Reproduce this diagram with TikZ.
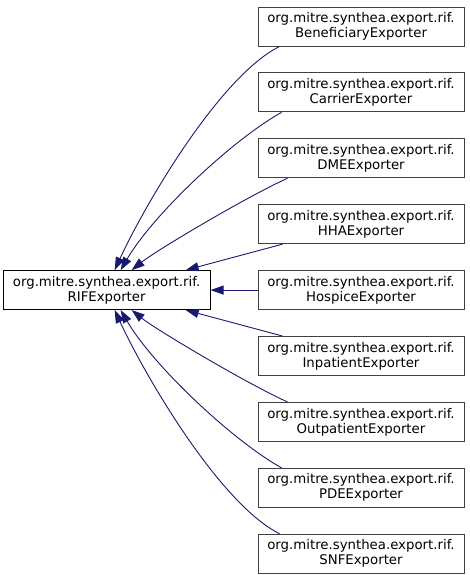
\documentclass[tikz,border=0pt]{standalone}
\usepackage{fontspec}
\setmainfont{DejaVu Sans}
\usetikzlibrary{arrows.meta, positioning}

\begin{document}
\begin{tikzpicture}[x=1pt, y=-1pt, node distance=26pt and 47pt,
      font=\fontsize{13.3}{15}\selectfont,
      cls/.style={draw=black!75, line width=0.9pt, fill=white, align=center,
        minimum width=206pt, minimum height=39pt, inner sep=0pt},
      edge/.style={draw={rgb,255:red,25;green,25;blue,112}, line width=0.9pt},
      >={Triangle[length=13pt, width=9pt]}]
    \useasboundingbox (0,0) rectangle (469,575);
    \node[cls] (ben) at (361,26.5) {org.mitre.synthea.export.rif.\\BeneficiaryExporter};
    \node[cls, below=of ben] (car) {org.mitre.synthea.export.rif.\\CarrierExporter};
    \node[cls, below=of car] (dme) {org.mitre.synthea.export.rif.\\DMEExporter};
    \node[cls, below=of dme] (hha) {org.mitre.synthea.export.rif.\\HHAExporter};
    \node[cls, below=of hha] (hos) {org.mitre.synthea.export.rif.\\HospiceExporter};
    \node[cls, below=of hos] (inp) {org.mitre.synthea.export.rif.\\InpatientExporter};
    \node[cls, below=of inp] (out) {org.mitre.synthea.export.rif.\\OutpatientExporter};
    \node[cls, below=of out] (pde) {org.mitre.synthea.export.rif.\\PDEExporter};
    \node[cls, below=of pde] (snf) {org.mitre.synthea.export.rif.\\SNFExporter};
    \node[cls, draw=black, minimum width=207pt, left=of hos] (rif) {org.mitre.synthea.export.rif.\\RIFExporter};
    % upper subclasses
    \draw[edge, ->] ([xshift=22pt]ben.south west) .. controls +(-60,30) and +(30,-65) .. ([xshift=112pt]rif.north west);
    \draw[edge, ->] ([xshift=24pt]car.south west) .. controls +(-50,28) and +(32,-55) .. ([xshift=118pt]rif.north west);
    \draw[edge, ->] ([xshift=30pt]dme.south west) .. controls +(-40,18) and +(25,-20) .. ([xshift=129pt]rif.north west);
    \draw[edge, ->] ([xshift=25pt]hha.south west) -- ([xshift=183pt]rif.north west);
    \draw[edge, ->] (hos) -- (rif);
    % lower subclasses
    \draw[edge, ->] ([xshift=25pt]inp.north west) -- ([xshift=183pt]rif.south west);
    \draw[edge, ->] ([xshift=30pt]out.north west) .. controls +(-40,-18) and +(25,20) .. ([xshift=129pt]rif.south west);
    \draw[edge, ->] ([xshift=24pt]pde.north west) .. controls +(-50,-28) and +(32,55) .. ([xshift=118pt]rif.south west);
    \draw[edge, ->] ([xshift=22pt]snf.north west) .. controls +(-60,-30) and +(30,65) .. ([xshift=112pt]rif.south west);
\end{tikzpicture}
\end{document}
